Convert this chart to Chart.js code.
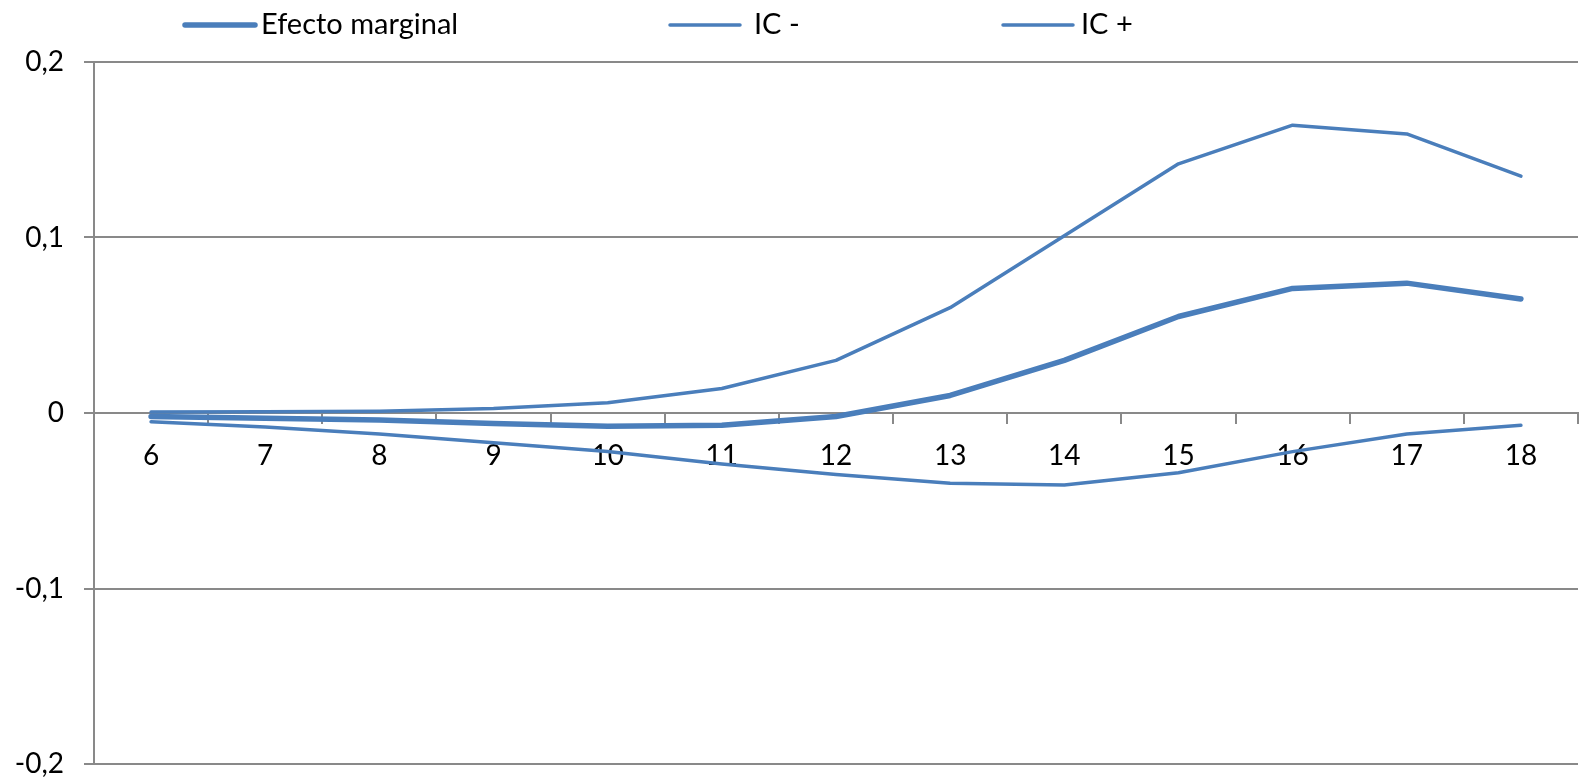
<!DOCTYPE html>
<html>
<head>
<meta charset="utf-8">
<script src="https://cdn.jsdelivr.net/npm/chart.js@4.4.1/dist/chart.umd.min.js"></script>
<style>
  html, body { margin: 0; padding: 0; background: #fff; }
  #wrap { width: 1587px; height: 781px; position: relative; }
</style>
</head>
<body>
<div id="wrap"><canvas id="c" width="1587" height="781"></canvas></div>
<script>
const categories = ['6','7','8','9','10','11','12','13','14','15','16','17','18'];
const efectoMarginal = [-0.002, -0.003, -0.004, -0.006, -0.0075, -0.007, -0.002, 0.010, 0.030, 0.055, 0.071, 0.074, 0.065];
const icMinus = [-0.005, -0.008, -0.012, -0.017, -0.022, -0.029, -0.035, -0.040, -0.041, -0.034, -0.022, -0.012, -0.007];
const icPlus = [0.0005, 0.0007, 0.001, 0.0025, 0.0058, 0.014, 0.030, 0.060, 0.101, 0.142, 0.164, 0.159, 0.135];
const yTickValues = [-0.2, -0.1, 0, 0.1, 0.2];
const yTickLabels = ['-0,2', '-0,1', '0', '0,1', '0,2'];
const seriesNames = ['Efecto marginal', 'IC -', 'IC +'];

const COLOR = '#4A7EBB';
const GRID = '#898989';
const FONT = 'Lato, "Open Sans", sans-serif';

const legendLineX = [185, 670, 1003];
const legendTextX = [261, 754, 1081];
const legendPlugin = {
  id: 'xlLegend',
  afterDraw(chart) {
    const ctx = chart.ctx;
    ctx.save();
    const y = 25;
    chart.data.datasets.forEach((ds, i) => {
      const x0 = legendLineX[i];
      ctx.strokeStyle = ds.borderColor;
      ctx.lineWidth = ds.borderWidth;
      ctx.lineCap = 'round';
      ctx.beginPath();
      ctx.moveTo(x0, y);
      ctx.lineTo(x0 + 70, y);
      ctx.stroke();
      ctx.fillStyle = '#000';
      ctx.font = '29px ' + FONT;
      ctx.textBaseline = 'middle';
      ctx.textAlign = 'left';
      ctx.fillText(ds.label, legendTextX[i], y);
    });
    ctx.restore();
  }
};

new Chart(document.getElementById('c'), {
  type: 'line',
  data: {
    labels: categories,
    datasets: [
      { label: seriesNames[0], data: efectoMarginal, borderColor: COLOR, borderWidth: 5.5 },
      { label: seriesNames[1], data: icMinus, borderColor: COLOR, borderWidth: 3.5 },
      { label: seriesNames[2], data: icPlus, borderColor: COLOR, borderWidth: 3.5 }
    ]
  },
  options: {
    responsive: false,
    animation: false,
    devicePixelRatio: 1,
    layout: { padding: { top: 62, right: 9, bottom: 17, left: 0 } },
    elements: {
      line: { tension: 0, borderCapStyle: 'round', borderJoinStyle: 'round' },
      point: { radius: 0, hoverRadius: 0 }
    },
    plugins: { legend: { display: false }, tooltip: { enabled: false } },
    scales: {
      x: {
        type: 'category',
        position: { y: 0 },
        offset: true,
        grid: { display: true, drawOnChartArea: false, drawTicks: true, tickLength: 10, offset: true, color: GRID, lineWidth: 2 },
        border: { display: true, color: GRID, width: 2 },
        ticks: { color: '#000', font: { family: FONT, size: 28 }, padding: 16, maxRotation: 0, autoSkip: false }
      },
      y: {
        min: -0.2,
        max: 0.2,
        afterFit(s) { s.width = 94; s.paddingTop = 0; s.paddingBottom = 0; },
        afterBuildTicks(s) { s.ticks = yTickValues.map(v => ({ value: v })); },
        grid: { color: GRID, lineWidth: 2, tickLength: 10 },
        border: { display: true, color: GRID, width: 2 },
        ticks: {
          color: '#000', font: { family: FONT, size: 28 }, padding: 20,
          callback(v) { const i = yTickValues.findIndex(t => Math.abs(t - v) < 1e-9); return i >= 0 ? yTickLabels[i] : ''; }
        }
      }
    }
  },
  plugins: [legendPlugin]
});
</script>
</body>
</html>
